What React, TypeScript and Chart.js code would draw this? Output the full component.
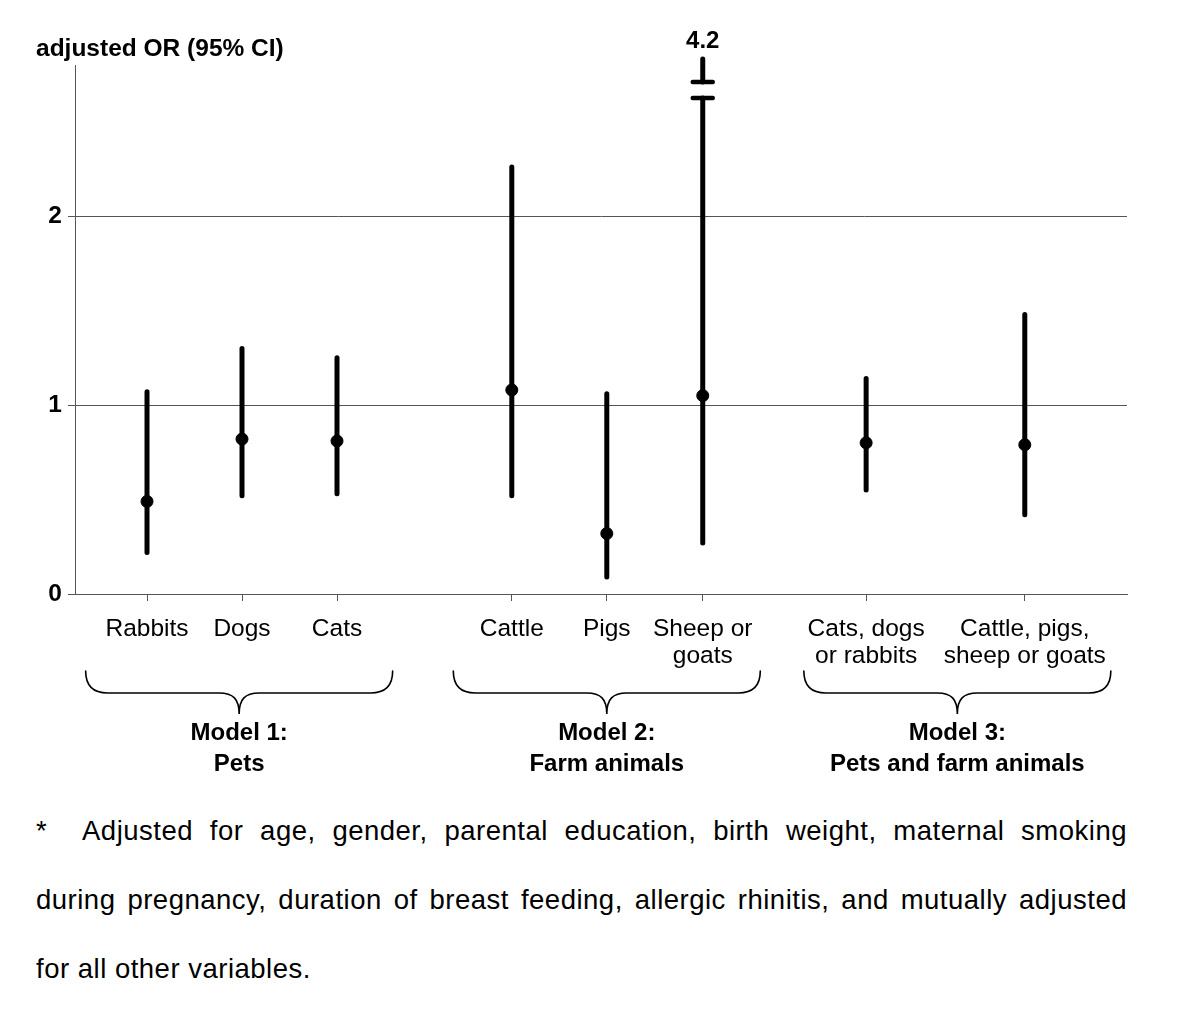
import React, { useEffect, useRef } from "react";
import { Chart, registerables } from "chart.js";

Chart.register(...registerables);

// ---- data ----
const categoryLabels: string[][] = [
  ["Rabbits"],
  ["Dogs"],
  ["Cats"],
  ["Cattle"],
  ["Pigs"],
  ["Sheep or", "goats"],
  ["Cats, dogs", "or rabbits"],
  ["Cattle, pigs,", "sheep or goats"],
];
const categoryPositions = [1, 2, 3, 4.84, 5.84, 6.85, 8.57, 10.24];
const orValues = [0.49, 0.82, 0.81, 1.08, 0.32, 1.05, 0.8, 0.79];
const ciLower = [0.22, 0.52, 0.53, 0.52, 0.09, 0.27, 0.55, 0.42];
const ciUpper = [1.07, 1.3, 1.25, 2.26, 1.06, 4.2, 1.14, 1.48];
const yTickValues = [0, 1, 2];
const groupTitles: string[][] = [
  ["Model 1:", "Pets"],
  ["Model 2:", "Farm animals"],
  ["Model 3:", "Pets and farm animals"],
];
const groupCenters = [1.97, 5.84, 9.53];
const yAxisTitle = "adjusted OR (95% CI)";
const footnoteLines = [
  "Adjusted for age, gender, parental education, birth weight, maternal smoking",
  "during pregnancy, duration of breast feeding, allergic rhinitis, and mutually adjusted",
  "for all other variables.",
];

const FONT = '"Liberation Sans", Arial, Helvetica, sans-serif';

const extrasPlugin = {
  id: "forestExtras",
  beforeDatasetsDraw(chart: any) {
    const ctx = chart.ctx;
    const xs = chart.scales.x;
    const ys = chart.scales.y;
    const top = chart.chartArea.top;
    ctx.save();
    ctx.strokeStyle = "#000";
    ctx.fillStyle = "#000";
    for (let i = 0; i < categoryPositions.length; i++) {
      const px = xs.getPixelForValue(categoryPositions[i]);
      const yLo = ys.getPixelForValue(ciLower[i]);
      ctx.lineWidth = 5;
      ctx.lineCap = "round";
      if (ciUpper[i] <= ys.max) {
        const yHi = ys.getPixelForValue(ciUpper[i]);
        ctx.beginPath();
        ctx.moveTo(px, yLo);
        ctx.lineTo(px, yHi);
        ctx.stroke();
      } else {
        // broken whisker
        const lowerCap = top + 33;
        const upperCap = top + 17;
        ctx.beginPath();
        ctx.moveTo(px, yLo);
        ctx.lineTo(px, lowerCap);
        ctx.stroke();
        ctx.beginPath();
        ctx.moveTo(px, upperCap);
        ctx.lineTo(px, top - 6);
        ctx.stroke();
        ctx.lineWidth = 4.5;
        ctx.lineCap = "round";
        ctx.beginPath();
        ctx.moveTo(px - 10, lowerCap);
        ctx.lineTo(px + 10, lowerCap);
        ctx.moveTo(px - 10, upperCap);
        ctx.lineTo(px + 10, upperCap);
        ctx.stroke();
        ctx.font = `bold 24px ${FONT}`;
        ctx.textAlign = "center";
        ctx.textBaseline = "alphabetic";
        ctx.fillText(String(ciUpper[i]), px, top - 17);
      }
    }
    ctx.restore();
  },
  afterDraw(chart: any) {
    const ctx = chart.ctx;
    const xs = chart.scales.x;
    ctx.save();
    ctx.fillStyle = "#000";
    ctx.strokeStyle = "#000";
    // y axis title
    ctx.font = `bold 24.5px ${FONT}`;
    ctx.textAlign = "left";
    ctx.textBaseline = "alphabetic";
    ctx.fillText(yAxisTitle, 36, 56);

    // braces + group titles
    const half = 153.5;
    const yEnd = 671;
    const yMid = 693;
    const yTip = 714;
    ctx.lineWidth = 1.6;
    ctx.lineCap = "round";
    groupCenters.forEach((gc, gi) => {
      const cx = xs.getPixelForValue(gc);
      const x0 = cx - half;
      const x1 = cx + half;
      ctx.beginPath();
      ctx.moveTo(x0, yEnd);
      ctx.quadraticCurveTo(x0, yMid, x0 + 22, yMid);
      ctx.lineTo(cx - 20, yMid);
      ctx.bezierCurveTo(cx - 6, yMid, cx, yMid + 6, cx, yTip);
      ctx.bezierCurveTo(cx, yMid + 6, cx + 6, yMid, cx + 20, yMid);
      ctx.lineTo(x1 - 22, yMid);
      ctx.quadraticCurveTo(x1, yMid, x1, yEnd);
      ctx.stroke();

      ctx.font = `bold 24px ${FONT}`;
      ctx.textAlign = "center";
      groupTitles[gi].forEach((line, li) => {
        ctx.fillText(line, cx, 740 + li * 30.5);
      });
    });
    ctx.restore();
  },
};

export default function App() {
  const canvasRef = useRef<HTMLCanvasElement | null>(null);

  useEffect(() => {
    if (!canvasRef.current) return;
    const chart = new Chart(canvasRef.current, {
      type: "scatter",
      data: {
        datasets: [
          {
            data: categoryPositions.map((x, i) => ({ x, y: orValues[i] })),
            backgroundColor: "#000",
            borderColor: "#000",
            pointRadius: 6,
            pointHoverRadius: 6,
          },
        ],
      },
      options: {
        responsive: false,
        animation: false,
        devicePixelRatio: 1,
        events: [],
        layout: { padding: { left: 0, right: 73, top: 65, bottom: 0 } },
        plugins: {
          legend: { display: false },
          tooltip: { enabled: false },
          title: { display: false },
        },
        scales: {
          x: {
            type: "linear",
            min: 0.242,
            max: 11.316,
            afterBuildTicks: (scale: any) => {
              scale.ticks = categoryPositions.map((v) => ({ value: v }));
            },
            afterFit: (scale: any) => {
              scale.height = 196;
            },
            ticks: {
              autoSkip: false,
              maxRotation: 0,
              minRotation: 0,
              padding: 15,
              color: "#000",
              font: { family: FONT, size: 24.5, lineHeight: 1.1 },
              callback: (value: any) => {
                const idx = categoryPositions.indexOf(Number(value));
                return idx >= 0 ? categoryLabels[idx] : "";
              },
            },
            grid: {
              drawOnChartArea: false,
              drawTicks: true,
              tickLength: 7,
              color: "#555",
              lineWidth: 1,
            },
            border: { display: true, color: "#555", width: 1 },
          },
          y: {
            type: "linear",
            min: 0,
            max: 2.8,
            afterBuildTicks: (scale: any) => {
              scale.ticks = yTickValues.map((v) => ({ value: v }));
            },
            afterFit: (scale: any) => {
              scale.width = 75;
            },
            ticks: {
              padding: 6,
              color: "#000",
              font: { family: FONT, size: 24.5, weight: "bold" },
              callback: (value: any) => String(value),
            },
            grid: {
              drawOnChartArea: true,
              drawTicks: true,
              tickLength: 7,
              color: "#555",
              lineWidth: 1,
            },
            border: { display: true, color: "#555", width: 1 },
          },
        },
      },
      plugins: [extrasPlugin],
    } as any);
    return () => chart.destroy();
  }, []);

  const lineStyle: React.CSSProperties = {
    textAlign: "justify",
    textAlignLast: "justify" as any,
    whiteSpace: "nowrap",
    height: 69,
  };

  return (
    <div
      style={{
        position: "absolute",
        left: 0,
        top: 0,
        width: 1200,
        height: 1035,
        background: "#fff",
      }}
    >
      <canvas
        ref={canvasRef}
        width={1200}
        height={790}
        style={{ position: "absolute", left: 0, top: 0, width: 1200, height: 790 }}
      />
      <div
        style={{
          position: "absolute",
          left: 36,
          top: 796,
          width: 1091,
          fontFamily: FONT,
          fontSize: 27.5,
          letterSpacing: 0.5,
          lineHeight: "69px",
          color: "#000",
        }}
      >
        <div style={lineStyle}>
          <span style={{ display: "inline-block", width: 46, textAlign: "left" }}>*</span>
          {footnoteLines[0]}
        </div>
        <div style={lineStyle}>{footnoteLines[1]}</div>
        <div style={{ textAlign: "left", height: 69, whiteSpace: "nowrap" }}>{footnoteLines[2]}</div>
      </div>
    </div>
  );
}
